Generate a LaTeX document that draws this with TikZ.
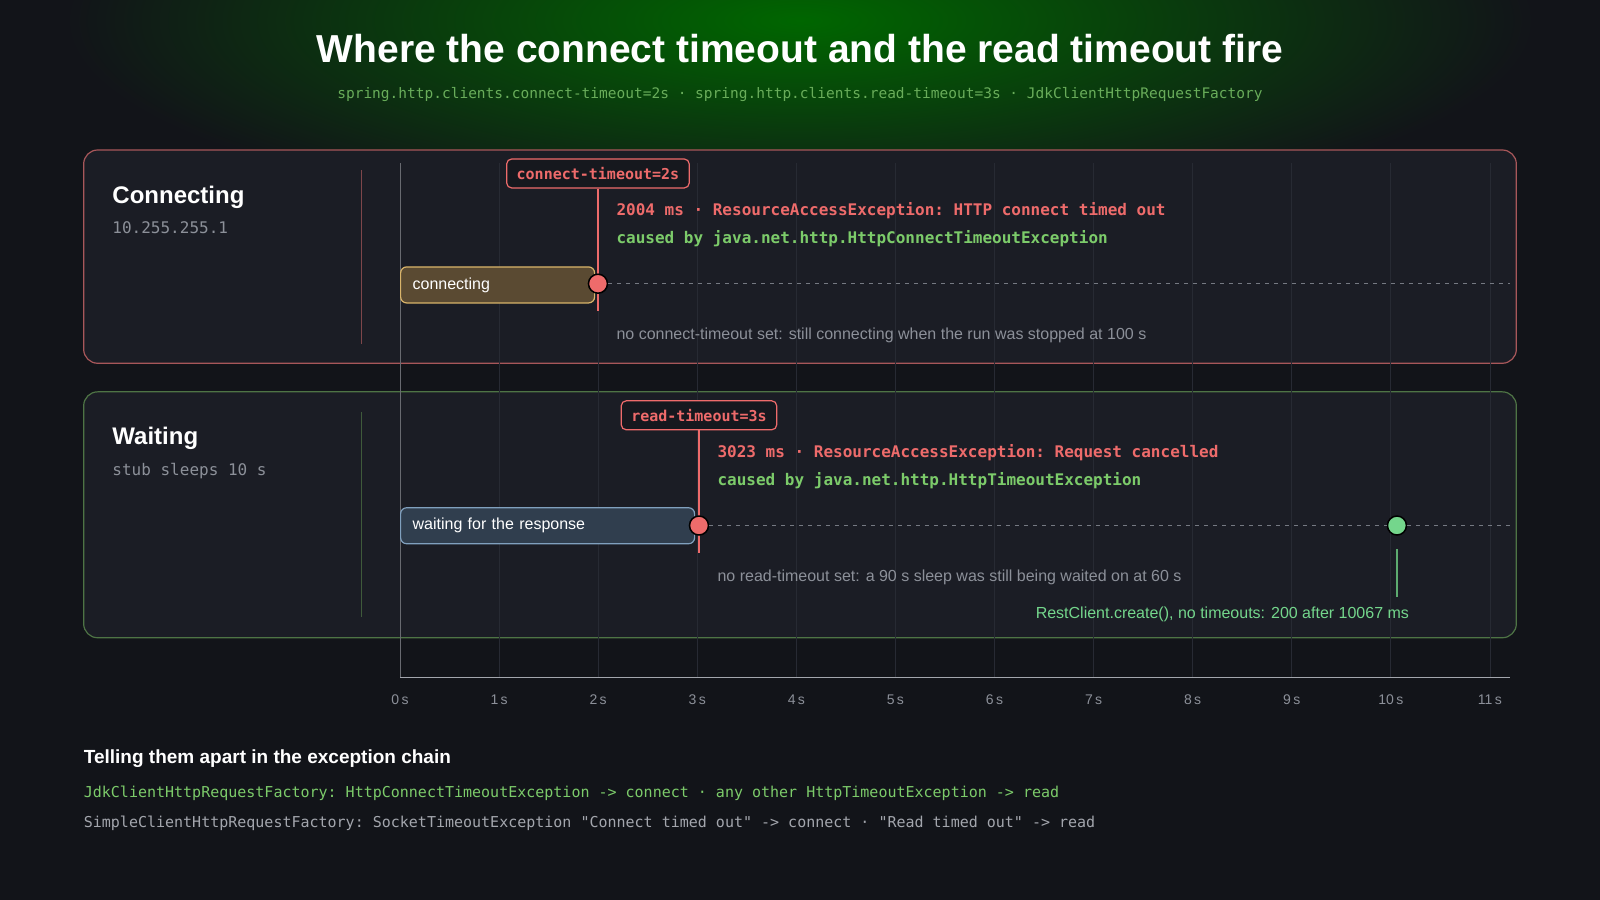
\documentclass[tikz,border=0pt]{standalone}
\usepackage{fontspec}
\setmainfont{Liberation Sans}
\setmonofont{DejaVu Sans Mono}
\usetikzlibrary{calc}
\definecolor{bg}{HTML}{121419}
\definecolor{panel}{HTML}{1B1D25}
\definecolor{redc}{HTML}{EE6B6B}
\definecolor{redb}{HTML}{A8575A}
\definecolor{greenb}{HTML}{4E7445}
\definecolor{greent}{HTML}{7CCB6A}
\definecolor{greenl}{HTML}{74D68C}
\definecolor{graytxt}{HTML}{8C9099}
\definecolor{gridc}{HTML}{272A33}
\definecolor{tagbg}{HTML}{16181E}
\definecolor{bar1d}{HTML}{D9B46A}
\definecolor{bar1f}{HTML}{5A4A32}
\definecolor{bar2d}{HTML}{80A0BE}
\definecolor{bar2f}{HTML}{303E4E}
\newcommand{\fs}[1]{\fontsize{#1}{#1}\selectfont}
\tikzset{x=1.0204pt,y=-1.0204pt,
 panelbox/.style={rounded corners=14, fill=panel, line width=1.2pt},
 tag/.style={draw=redc, fill=tagbg, rounded corners=5, line width=1.2pt, text=redc, font=\ttfamily\bfseries\fs{15}, minimum height=29pt, inner xsep=10pt},
 head/.style={anchor=base west, text=white, font=\bfseries\fs{24}, inner sep=0},
 sub/.style={anchor=base west, text=graytxt, font=\ttfamily\fs{16}, inner sep=0},
 msg/.style={anchor=base west, font=\ttfamily\bfseries\fs{16}, inner sep=0},
 note/.style={anchor=base west, text=graytxt, font=\fs{16}, inner sep=0},
 bar/.style={rounded corners=6, line width=1.2pt, anchor=north west, minimum height=36pt, text=white, font=\fs{16}, inner xsep=12pt, align=left},
 dot/.style={circle, draw=black, line width=1.5pt, minimum size=19pt, inner sep=0},
 tick/.style={text=graytxt, font=\fs{14}, inner sep=0, anchor=base},
}
\begin{document}
\begin{tikzpicture}
\useasboundingbox (0,0) rectangle (1568,882);
\fill[bg] (0,0) rectangle (1568,882);
\begin{scope}
\clip (0,0) rectangle (1568,882);
\shade[inner color=green!40!black, outer color=bg] (784,20) ellipse (720 and 200);
\end{scope}
\node[anchor=base, text=white, font=\bfseries\fs{39}, inner sep=0] (title) at (784,61) {Where the connect timeout and the read timeout fire};
\node[anchor=base, text=greent!85!black, font=\ttfamily\fs{14.5}, inner sep=0] (subt) at (784,97) {spring.http.clients.connect-timeout=2s · spring.http.clients.read-timeout=3s · JdkClientHttpRequestFactory};
% panels
\draw[panelbox, draw=redb] (82,147) rectangle (1486,356);
\draw[panelbox, draw=greenb] (82,384) rectangle (1486,625);
% grid
\foreach \k in {0,...,11} {
 \draw[gridc, line width=0.8pt] ({392+97.1*\k},160) -- ({392+97.1*\k},664);
 \node[tick] (t\k) at ({392+97.1*\k},690) {\k\,s};
}
\draw[gridc!70!white, line width=1pt] (392,160) -- (392,664);
\draw[graytxt!80!white, line width=1.5pt] (392,664) -- (1480,664);
% panel 1
\node[head] (h1) at (110,199) {Connecting};
\node[sub] (s1) at (110,229) {10.255.255.1};
\draw[redb!70!panel, line width=1pt] (354,167) -- (354,337);
\node[tag] (tag1) at (586,170) {connect-timeout=2s};
\draw[redc, line width=2.5pt] (tag1.south) -- (586,305);
\node[msg, text=redc] (m1) at (604,211) {2004 ms · ResourceAccessException: HTTP connect timed out};
\node[msg, text=greent] (c1) at (604,239) {caused by java.net.http.HttpConnectTimeoutException};
\node[bar, draw=bar1d, fill=bar1f, text width=170pt] (b1) at (392,261) {connecting};
\node[dot, fill=redc] (d1) at (586,278) {};
\coordinate (e1) at (1480,278);
\draw[graytxt!80!panel, dash pattern=on 4pt off 5pt, line width=1.2pt] (d1.east) -- (e1);
\node[note] (n1) at (604,333) {no connect-timeout set: still connecting when the run was stopped at 100 s};
% panel 2
\node[head] (h2) at (110,436) {Waiting};
\node[sub] (s2) at (110,466) {stub sleeps 10 s};
\draw[greenb!70!panel, line width=1pt] (354,404) -- (354,605);
\node[tag] (tag2) at (685,407) {read-timeout=3s};
\draw[redc, line width=2.5pt] (tag2.south) -- (685,542);
\node[msg, text=redc] (m2) at (703,448) {3023 ms · ResourceAccessException: Request cancelled};
\node[msg, text=greent] (c2) at (703,476) {caused by java.net.http.HttpTimeoutException};
\node[bar, draw=bar2d, fill=bar2f, text width=270pt] (b2) at (392,497) {waiting for the response};
\node[dot, fill=redc] (d2) at (685,515) {};
\node[dot, fill=greenl] (g2) at (1369,515) {};
\coordinate (e2) at (1480,515);
\draw[graytxt!80!panel, dash pattern=on 4pt off 5pt, line width=1.2pt] (d2.east) -- (g2.west);
\draw[graytxt!80!panel, dash pattern=on 4pt off 5pt, line width=1.2pt] (g2.east) -- (e2);
\coordinate (gl) at (1369,585);
\draw[greenl!80!black, line width=1.5pt] (1369,538) -- (gl);
\node[note] (n2) at (703,570) {no read-timeout set: a 90 s sleep was still being waited on at 60 s};
\node[anchor=base east, text=greenl, font=\fs{16}, inner sep=0] (ok) at (1381,606) {RestClient.create(), no timeouts: 200 after 10067 ms};
% footer
\node[anchor=base west, text=white, font=\bfseries\fs{19}, inner sep=0] (f0) at (82,748) {Telling them apart in the exception chain};
\node[anchor=base west, text=greent, font=\ttfamily\fs{15}, inner sep=0] (f1) at (82,782) {JdkClientHttpRequestFactory: HttpConnectTimeoutException -> connect · any other HttpTimeoutException -> read};
\node[anchor=base west, text=graytxt!80!white, font=\ttfamily\fs{15}, inner sep=0] (f2) at (82,811) {SimpleClientHttpRequestFactory: SocketTimeoutException "Connect timed out" -> connect · "Read timed out" -> read};
\end{tikzpicture}
\end{document}
